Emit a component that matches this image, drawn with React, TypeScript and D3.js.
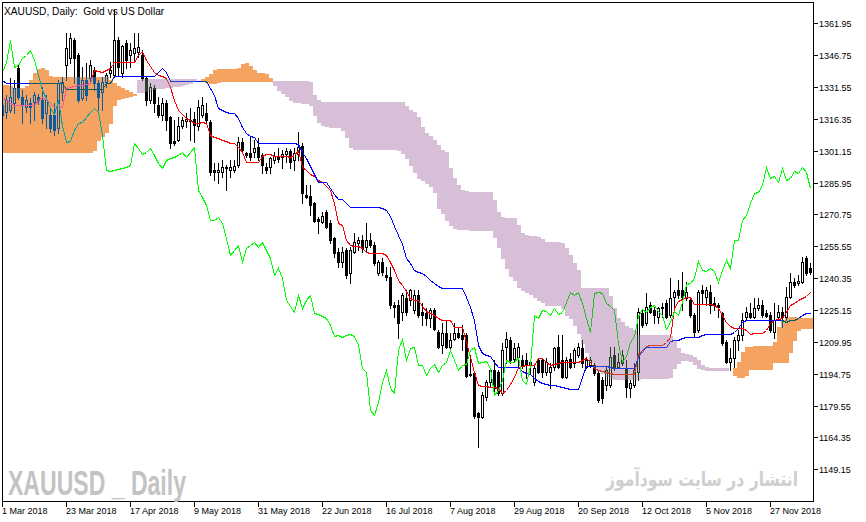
import React from "react";
import * as d3 from "d3";

// ---------- data ----------
// Daily candles, [open, high, low, close]
const ohlc: [number, number, number, number][] = [
  [1323.0,1325.4,1316.8,1318.2],[1319.6,1327.7,1316.8,1325.4],[1320.6,1335.9,1319.6,1326.8],[1323.9,1334.9,1319.2,1331.1],[1340.6,1342.1,1326.0,1326.8],
  [1326.8,1330.1,1314.4,1323.0],[1322.0,1327.7,1319.6,1325.4],[1323.9,1326.3,1314.4,1322.0],[1324.4,1329.2,1315.8,1327.7],[1326.8,1328.2,1323.4,1325.4],
  [1325.4,1331.6,1314.4,1316.8],[1319.2,1327.7,1312.0,1325.4],[1318.2,1322.0,1310.1,1312.0],[1318.2,1323.9,1308.7,1311.1],[1312.0,1334.9,1309.6,1333.5],
  [1329.2,1336.3,1325.4,1334.0],[1342.1,1357.3,1334.9,1350.2],[1345.4,1357.3,1343.0,1354.9],[1354.0,1354.9,1333.5,1345.4],[1346.8,1347.8,1324.4,1325.4],
  [1326.3,1341.1,1325.4,1334.9],[1334.9,1343.0,1325.4,1327.7],[1335.9,1344.4,1333.5,1342.1],[1339.7,1341.1,1330.1,1333.5],[1333.5,1334.9,1320.6,1326.8],
  [1329.2,1336.3,1320.6,1334.0],[1334.0,1338.2,1331.6,1337.3],[1338.2,1343.5,1336.3,1339.7],[1337.3,1368.3,1336.3,1354.0],[1354.0,1355.4,1337.3,1341.1],
  [1338.2,1351.6,1336.3,1351.1],[1352.5,1354.0,1340.6,1344.4],[1346.8,1352.5,1341.1,1349.2],[1347.8,1357.3,1344.4,1350.2],[1348.3,1357.3,1345.9,1350.7],
  [1346.8,1349.2,1334.9,1335.9],[1335.9,1336.3,1323.0,1325.4],[1325.4,1333.5,1323.9,1331.6],[1331.1,1332.5,1319.6,1323.9],[1323.0,1326.8,1317.2,1318.2],
  [1318.2,1326.3,1315.8,1323.9],[1323.9,1325.4,1311.1,1315.8],[1317.2,1317.5,1302.5,1304.9],[1305.8,1315.8,1303.9,1304.9],[1306.3,1317.2,1305.8,1313.0],
  [1313.0,1317.2,1312.0,1315.8],[1315.3,1319.2,1312.5,1316.3],[1315.8,1321.5,1306.3,1315.3],[1316.3,1319.6,1305.3,1313.5],[1313.0,1325.4,1311.1,1322.0],
  [1318.2,1326.8,1317.2,1323.0],[1319.2,1323.9,1314.4,1315.8],[1314.8,1315.8,1289.6,1291.0],[1292.0,1295.3,1287.2,1291.0],[1291.0,1295.3,1285.8,1292.0],
  [1291.0,1296.7,1288.6,1293.4],[1293.4,1294.3,1282.4,1292.9],[1292.0,1296.7,1288.6,1293.4],[1292.0,1296.7,1291.0,1293.9],[1294.3,1307.7,1293.4,1305.3],
  [1305.3,1307.2,1300.1,1301.5],[1300.1,1300.6,1298.2,1299.1],[1300.1,1307.7,1296.7,1298.2],[1300.6,1306.3,1298.2,1302.5],[1303.0,1307.2,1296.7,1298.2],
  [1299.1,1300.1,1290.5,1294.3],[1293.4,1295.3,1290.5,1292.0],[1293.4,1298.2,1290.5,1297.7],[1296.7,1300.6,1295.3,1298.6],[1298.2,1302.5,1295.8,1297.2],
  [1298.2,1301.5,1292.9,1299.6],[1299.6,1302.5,1295.8,1301.0],[1301.0,1302.0,1292.9,1295.8],[1296.7,1302.5,1292.0,1300.1],[1299.6,1310.1,1296.7,1303.0],
  [1303.4,1304.9,1276.2,1281.0],[1280.0,1284.8,1278.6,1279.1],[1279.6,1284.8,1270.5,1275.3],[1276.2,1276.7,1267.2,1267.6],[1268.6,1269.5,1261.9,1267.6],
  [1267.2,1271.9,1266.7,1270.0],[1271.9,1272.9,1264.3,1264.8],[1266.7,1268.1,1257.1,1258.6],[1259.5,1260.0,1250.5,1252.4],[1252.8,1254.7,1245.7,1248.1],
  [1248.1,1255.2,1245.7,1252.8],[1253.8,1254.7,1240.4,1241.9],[1242.8,1255.2,1238.0,1253.8],[1252.8,1261.9,1252.4,1257.6],[1257.1,1260.0,1253.8,1258.6],
  [1258.6,1261.0,1252.8,1254.7],[1255.2,1266.7,1252.8,1258.6],[1258.6,1261.9,1255.2,1256.2],[1256.2,1257.6,1246.6,1247.6],[1242.8,1249.0,1241.9,1248.1],
  [1248.1,1250.0,1241.9,1243.3],[1241.9,1245.7,1239.5,1240.9],[1240.9,1245.7,1226.1,1227.5],[1227.5,1229.0,1221.8,1226.6],[1227.5,1229.9,1211.8,1219.0],
  [1224.2,1233.3,1220.4,1232.3],[1230.9,1234.7,1222.8,1224.2],[1229.9,1235.2,1227.5,1234.7],[1225.2,1234.7,1223.7,1232.3],[1232.3,1234.7,1221.8,1222.8],
  [1224.2,1228.5,1218.0,1222.8],[1223.7,1226.1,1218.0,1221.3],[1221.3,1226.1,1217.0,1225.2],[1225.2,1226.1,1215.6,1216.1],[1214.7,1215.6,1207.0,1207.5],
  [1208.5,1219.0,1204.7,1214.2],[1214.2,1220.4,1207.0,1207.5],[1207.5,1214.2,1207.0,1210.9],[1211.3,1219.0,1210.9,1214.2],[1214.2,1217.1,1211.8,1212.3],
  [1213.2,1218.0,1206.1,1211.3],[1213.2,1214.2,1193.2,1193.7],[1194.2,1203.7,1193.7,1194.6],[1195.1,1195.6,1173.6,1174.6],[1176.0,1176.5,1159.8,1174.1],
  [1174.1,1186.0,1173.6,1184.6],[1183.7,1191.8,1182.2,1190.8],[1190.8,1197.5,1188.4,1196.5],[1196.5,1201.3,1186.0,1187.9],[1195.6,1196.5,1184.6,1185.6],
  [1185.6,1209.4,1184.6,1206.1],[1207.5,1214.7,1199.9,1211.3],[1210.9,1212.3,1199.9,1201.3],[1201.8,1209.4,1200.4,1207.0],[1202.7,1209.4,1197.5,1207.5],
  [1201.3,1203.7,1197.5,1198.9],[1201.3,1204.7,1192.7,1198.9],[1198.9,1201.3,1195.1,1200.4],[1190.8,1198.9,1189.4,1197.5],[1201.3,1202.3,1195.1,1195.6],
  [1201.3,1202.3,1193.2,1195.6],[1195.6,1202.3,1194.2,1200.4],[1195.6,1199.9,1187.9,1198.0],[1198.0,1207.5,1196.5,1207.0],[1207.5,1213.2,1197.5,1198.0],
  [1201.3,1213.2,1192.7,1193.2],[1193.2,1202.7,1192.7,1201.3],[1201.8,1204.7,1197.5,1198.0],[1199.9,1207.0,1198.0,1206.1],[1203.7,1209.4,1202.7,1207.5],
  [1207.0,1210.9,1198.0,1199.9],[1198.0,1202.7,1197.5,1201.3],[1198.9,1202.7,1198.0,1201.3],[1198.9,1199.9,1194.2,1195.1],[1195.1,1196.5,1181.3,1182.2],
  [1191.8,1193.2,1180.8,1183.2],[1189.4,1198.0,1187.0,1196.5],[1189.4,1207.5,1188.4,1202.7],[1203.7,1207.5,1196.5,1197.5],[1198.0,1204.7,1197.5,1200.4],
  [1199.9,1206.1,1198.9,1203.7],[1197.5,1201.3,1183.7,1188.4],[1187.9,1191.8,1183.7,1190.3],[1189.4,1199.9,1188.4,1196.5],[1195.6,1226.1,1191.8,1224.2],
  [1223.7,1225.2,1217.1,1218.0],[1219.0,1233.3,1218.0,1226.6],[1227.5,1229.0,1223.7,1224.2],[1225.2,1226.6,1219.0,1222.8],[1221.8,1226.6,1219.0,1226.1],
  [1226.1,1228.5,1221.8,1226.6],[1228.5,1229.9,1221.3,1221.8],[1222.8,1240.4,1221.8,1230.9],[1231.4,1234.7,1226.6,1233.8],[1234.7,1239.5,1230.9,1232.3],
  [1234.7,1243.3,1225.2,1231.4],[1230.9,1238.5,1229.9,1233.8],[1229.9,1230.9,1221.8,1222.8],[1222.8,1223.7,1212.3,1214.7],[1215.6,1234.7,1214.7,1233.8],
  [1234.7,1237.1,1228.5,1233.3],[1231.4,1236.1,1227.5,1234.7],[1233.8,1237.1,1223.7,1227.5],[1228.5,1231.4,1225.2,1227.5],[1227.5,1228.5,1221.8,1226.6],
  [1223.7,1224.2,1208.5,1209.4],[1209.9,1210.9,1199.9,1200.4],[1200.4,1207.0,1196.5,1202.3],[1202.3,1212.3,1198.0,1210.9],[1210.9,1215.6,1206.1,1213.2],
  [1213.2,1223.7,1210.9,1220.4],[1221.8,1226.6,1220.4,1224.2],[1223.7,1228.5,1221.3,1221.8],[1221.8,1230.9,1221.3,1226.1],[1226.1,1230.9,1225.2,1227.5],
  [1227.5,1229.9,1221.8,1222.8],[1223.7,1225.2,1221.8,1222.3],[1222.8,1224.2,1214.7,1215.6],[1214.7,1228.5,1211.8,1220.4],[1221.8,1227.5,1220.4,1224.2],
  [1224.2,1226.6,1217.1,1221.8],[1221.8,1236.1,1220.4,1231.4],[1231.4,1242.8,1230.9,1238.5],[1238.5,1240.4,1236.1,1237.1],[1238.0,1241.9,1237.1,1239.0],
  [1238.5,1250.5,1238.0,1248.1],[1250.0,1250.9,1241.9,1242.8],[1245.2,1247.6,1242.3,1243.3],
];

// Tenkan-sen (red)
const tenkan: number[] = [
  1326.8,1325.4,1323.9,1323.0,1323.0,1323.0,1323.0,1323.0,1323.0,1325.4,
  1326.8,1325.4,1323.9,1322.0,1322.0,1322.0,1331.1,1331.6,1332.0,1332.5,
  1332.5,1333.0,1333.5,1339.7,1339.2,1338.7,1339.7,1340.6,1343.5,1343.5,
  1343.5,1343.5,1343.5,1343.5,1346.8,1348.7,1344.4,1341.6,1338.7,1337.3,
  1336.8,1335.9,1331.6,1325.4,1320.6,1318.7,1316.8,1315.8,1314.4,1314.4,
  1314.9,1314.4,1308.7,1307.7,1307.2,1306.3,1305.8,1304.9,1304.9,1302.9,
  1300.6,1295.8,1295.8,1295.8,1295.8,1298.6,1299.6,1299.6,1298.6,1298.6,
  1298.6,1298.6,1298.2,1299.1,1301.5,1293.4,1292.0,1290.1,1289.1,1287.2,
  1286.2,1284.3,1282.4,1276.2,1266.7,1265.7,1258.6,1256.2,1255.7,1255.7,
  1254.7,1252.8,1252.4,1252.4,1252.4,1252.4,1251.4,1248.1,1244.3,1239.5,
  1237.1,1234.2,1230.9,1229.9,1229.9,1227.1,1224.7,1223.7,1222.8,1221.4,
  1220.4,1220.4,1220.4,1217.1,1217.1,1217.1,1209.9,1202.7,1195.6,1189.4,
  1188.9,1188.9,1188.4,1188.4,1187.9,1185.6,1187.0,1189.9,1193.2,1198.0,
  1198.5,1198.9,1198.9,1198.9,1202.3,1202.3,1200.4,1198.9,1199.4,1199.9,
  1200.4,1200.4,1200.4,1200.4,1200.4,1201.3,1202.3,1200.4,1197.5,1196.5,
  1196.1,1195.6,1195.1,1194.6,1194.6,1194.6,1194.6,1194.6,1194.6,1204.7,
  1205.1,1208.0,1208.5,1208.5,1208.5,1208.5,1209.9,1212.3,1226.1,1229.5,
  1230.4,1231.4,1231.4,1228.0,1228.0,1228.0,1228.0,1228.0,1227.5,1226.1,
  1222.8,1219.4,1217.5,1216.6,1216.6,1216.6,1215.6,1213.7,1214.2,1214.2,
  1214.2,1215.6,1219.0,1220.4,1220.9,1221.4,1224.2,1227.5,1228.5,1229.9,
  1230.9,1231.8,1233.8,
];

// Kijun-sen (blue)
const kijun: number[] = [
  1334.9,1333.5,1333.5,1333.5,1333.5,1333.5,1333.5,1333.5,1333.5,1333.5,
  1333.5,1333.5,1333.5,1333.5,1333.5,1333.5,1330.6,1330.6,1330.6,1330.6,
  1330.6,1330.6,1330.6,1330.6,1330.6,1330.6,1333.5,1333.5,1336.8,1336.8,
  1336.8,1336.8,1336.8,1336.8,1336.8,1336.8,1336.8,1336.8,1336.8,1338.7,
  1340.6,1338.7,1334.4,1334.4,1334.4,1334.4,1334.4,1334.4,1334.4,1334.4,
  1334.4,1334.4,1331.1,1327.7,1321.5,1320.6,1319.6,1319.2,1319.2,1316.8,
  1312.5,1309.5,1308.2,1307.7,1304.9,1304.9,1304.9,1304.9,1304.9,1304.9,
  1304.9,1304.9,1304.9,1304.9,1304.4,1300.6,1297.7,1293.9,1290.1,1286.2,
  1286.2,1286.2,1283.4,1280.5,1278.1,1278.1,1276.2,1274.3,1274.3,1274.3,
  1274.3,1274.3,1274.3,1274.3,1274.3,1273.8,1272.9,1270.0,1265.2,1260.9,
  1256.7,1250.0,1247.6,1244.3,1243.3,1242.8,1241.4,1239.5,1238.0,1236.6,
  1235.7,1235.7,1235.7,1235.7,1235.7,1235.7,1231.4,1226.6,1220.4,1208.5,
  1204.7,1203.7,1203.2,1200.4,1198.0,1198.0,1198.0,1198.0,1198.0,1198.0,
  1196.1,1195.1,1194.6,1192.7,1191.3,1190.3,1189.9,1189.4,1189.4,1188.9,
  1188.4,1187.9,1187.5,1187.5,1187.5,1193.2,1198.5,1198.5,1198.5,1198.5,
  1198.5,1198.5,1198.0,1197.5,1197.5,1197.5,1197.5,1197.5,1197.5,1202.7,
  1206.1,1207.5,1207.5,1207.5,1207.5,1207.5,1207.5,1210.4,1210.9,1210.9,
  1211.8,1212.3,1212.3,1212.3,1212.3,1213.2,1213.7,1213.7,1213.7,1213.7,
  1213.7,1213.7,1213.7,1214.7,1216.6,1219.4,1220.4,1220.4,1220.4,1220.4,
  1220.4,1220.4,1220.4,1220.4,1220.4,1220.4,1219.4,1220.4,1220.4,1221.4,
  1222.8,1223.7,1223.7,
];

// Chikou span (lime)
const chikou: number[] = [
  1338.7,1343.5,1354.0,1341.1,1342.1,1345.4,1346.8,1349.2,1344.4,1337.3,
  1330.1,1326.3,1321.5,1318.7,1325.4,1313.4,1305.3,1305.8,1311.1,1314.4,
  1314.9,1317.2,1319.6,1321.5,1319.6,1308.7,1292.0,1291.5,1292.0,1292.4,
  1292.9,1293.4,1294.3,1304.9,1302.5,1299.6,1300.6,1302.5,1299.1,1295.3,
  1292.9,1296.7,1297.7,1298.2,1299.1,1300.6,1298.2,1300.6,1302.9,1282.4,
  1279.1,1275.3,1268.1,1268.1,1269.5,1266.7,1259.5,1251.4,1253.8,1256.2,
  1248.1,1254.7,1256.2,1257.6,1255.2,1257.6,1253.8,1250.0,1241.9,1245.2,
  1240.4,1229.9,1227.1,1224.2,1232.3,1226.1,1229.9,1232.3,1223.7,1223.3,
  1222.3,1221.4,1218.0,1212.8,1213.2,1212.3,1213.2,1213.7,1212.8,1208.5,
  1197.5,1195.6,1177.5,1175.1,1181.3,1190.8,1196.5,1187.9,1185.6,1206.1,
  1211.3,1201.3,1207.0,1207.5,1198.9,1198.9,1194.2,1197.5,1199.4,1195.6,
  1198.9,1200.4,1206.1,1201.3,1196.5,1198.9,1199.4,1206.1,1207.5,1199.9,
  1200.4,1200.8,1197.5,1184.6,1187.0,1191.8,1201.3,1200.4,1200.4,1202.7,
  1191.8,1189.9,1198.9,1222.8,1221.4,1225.2,1224.7,1222.8,1226.1,1223.3,
  1224.2,1229.0,1233.8,1232.3,1233.8,1228.5,1221.4,1214.7,1233.3,1233.8,
  1233.3,1228.5,1227.1,1225.2,1209.4,1200.4,1203.2,1209.9,1212.8,1222.3,
  1225.6,1224.2,1226.6,1227.5,1224.7,1222.8,1216.1,1219.4,1224.7,1222.8,
  1229.0,1237.6,1238.0,1240.4,1248.5,1244.3,1243.8,1245.2,1243.8,1238.5,
  1244.3,1249.0,1245.2,1258.6,1258.6,1268.1,1270.5,1276.2,1281.0,1281.5,
  1284.8,1293.4,1288.1,1289.1,1286.2,1292.9,1287.2,1288.1,1291.5,1290.5,
  1293.4,1291.0,1283.4,
];

// Senkou span A (already shifted to the bar it is drawn on)
const spanA: number[] = [
  1332.5,1332.5,1332.0,1331.1,1331.1,1331.1,1332.0,1334.9,1338.2,1340.1,
  1340.6,1339.7,1336.8,1336.3,1336.3,1336.3,1336.3,1336.3,1336.3,1336.3,
  1336.3,1336.3,1336.3,1336.3,1336.3,1336.3,1336.3,1334.9,1333.5,1332.0,
  1331.1,1330.1,1329.2,1328.2,1329.2,1329.2,1329.7,1330.1,1330.6,1331.1,
  1331.1,1331.6,1331.6,1332.0,1332.0,1332.5,1333.0,1333.5,1334.4,1334.9,
  1335.4,1336.3,1337.8,1339.7,1340.1,1340.1,1340.1,1340.1,1340.1,1340.6,
  1342.5,1343.0,1341.6,1339.7,1338.2,1338.2,1337.8,1335.9,1332.5,1330.1,
  1328.7,1327.3,1325.4,1324.4,1324.4,1323.9,1323.9,1323.0,1318.2,1314.9,
  1313.4,1313.0,1312.5,1312.5,1312.5,1311.1,1307.7,1302.9,1302.0,1302.0,
  1302.0,1302.0,1302.0,1302.0,1302.0,1302.0,1302.0,1302.0,1302.0,1301.5,
  1300.1,1297.7,1294.3,1291.0,1288.1,1287.2,1285.8,1284.3,1281.5,1273.8,
  1271.4,1268.1,1265.7,1264.3,1263.8,1263.8,1263.8,1263.3,1263.3,1263.3,
  1263.3,1263.3,1263.3,1260.0,1255.2,1250.0,1245.2,1241.4,1239.5,1236.1,
  1234.7,1233.8,1232.8,1231.4,1229.9,1229.0,1227.5,1227.5,1227.5,1227.5,
  1226.1,1222.8,1221.4,1218.0,1214.2,1209.4,1205.1,1200.4,1198.0,1196.1,
  1195.1,1193.7,1192.7,1192.3,1192.3,1192.3,1192.3,1192.3,1192.3,1192.3,
  1192.7,1192.7,1192.7,1192.7,1192.7,1192.7,1192.7,1193.2,1197.5,1199.9,
  1201.3,1201.3,1200.8,1199.4,1197.5,1197.0,1196.5,1196.5,1196.5,1196.5,
  1196.5,1196.5,1196.1,1197.5,1200.4,1205.1,1207.5,1207.5,1208.0,1208.0,
  1208.0,1208.0,1208.0,1209.9,1217.1,1220.4,1221.4,1221.8,1221.8,1221.4,
  1221.4,1221.4,1221.4,
];

// Senkou span B
const spanB: number[] = [
  1300.6,1300.6,1300.6,1300.6,1300.6,1300.6,1300.6,1300.6,1300.6,1300.6,
  1300.6,1300.6,1300.6,1300.6,1300.6,1300.6,1300.6,1300.6,1300.6,1300.6,
  1300.6,1300.6,1300.6,1301.5,1306.3,1308.2,1310.1,1314.4,1323.0,1325.8,
  1326.3,1326.8,1327.3,1327.7,1334.9,1335.4,1335.4,1335.4,1335.4,1335.4,
  1335.4,1335.4,1335.4,1335.4,1335.4,1335.4,1335.4,1335.4,1335.4,1334.9,
  1334.4,1334.0,1333.5,1333.5,1334.0,1334.4,1334.4,1334.4,1334.4,1334.4,
  1334.4,1334.4,1334.4,1334.4,1334.4,1334.4,1334.4,1334.4,1334.4,1334.4,
  1334.4,1334.4,1334.4,1334.4,1334.4,1334.4,1334.4,1334.0,1327.7,1325.4,
  1324.4,1324.4,1324.4,1324.4,1324.4,1324.4,1324.4,1324.4,1324.4,1324.4,
  1324.4,1324.4,1324.4,1324.4,1324.4,1324.4,1324.4,1324.4,1324.4,1324.4,
  1324.4,1322.5,1320.6,1319.6,1317.2,1312.5,1309.6,1308.2,1306.3,1303.9,
  1301.5,1300.6,1292.9,1288.1,1284.8,1282.4,1281.9,1281.5,1281.5,1281.5,
  1281.5,1281.5,1281.5,1277.7,1271.9,1269.5,1269.1,1269.1,1269.1,1265.7,
  1261.9,1260.9,1260.5,1260.5,1260.0,1259.0,1257.6,1257.6,1257.6,1257.6,
  1257.1,1254.7,1251.4,1247.6,1244.3,1235.7,1235.7,1235.7,1235.7,1235.7,
  1235.7,1235.7,1231.8,1226.1,1221.4,1219.4,1217.5,1216.6,1215.6,1213.2,
  1213.2,1213.2,1213.2,1213.2,1213.2,1213.2,1213.2,1212.8,1210.9,1207.0,
  1204.7,1204.2,1203.7,1202.7,1201.3,1198.9,1198.0,1197.5,1197.5,1197.5,
  1197.5,1197.5,1196.1,1194.2,1193.2,1193.2,1194.2,1197.0,1197.0,1197.0,
  1197.0,1197.0,1197.0,1200.4,1200.4,1200.4,1200.4,1205.1,1210.9,1215.6,
  1216.6,1216.6,1216.6,
];

const priceTicks: number[] = [
  1361.95, 1346.75, 1331.55, 1316.35, 1301.15, 1285.95, 1270.75, 1255.55,
  1240.35, 1225.15, 1209.95, 1194.75, 1179.55, 1164.35, 1149.15,
];
const dateLabels: string[] = [
  "1 Mar 2018", "23 Mar 2018", "17 Apr 2018", "9 May 2018", "31 May 2018",
  "22 Jun 2018", "16 Jul 2018", "7 Aug 2018", "29 Aug 2018", "20 Sep 2018",
  "12 Oct 2018", "5 Nov 2018", "27 Nov 2018",
];
const dateBars: number[] = [0, 16, 32, 48, 64, 80, 96, 112, 128, 144, 160, 176, 192];

const TITLE = "XAUUSD, Daily:  Gold vs US Dollar";
const MARK_EN = "XAUUSD _ Daily";
const MARK_FA = "انتشار در سایت سودآموز";

// ---------- chart ----------
const W = 866;
const H = 522;
const FONT = "'Liberation Sans', Arial, sans-serif";

// The cloud is drawn with a "difference" blend (MT4 paints the kumo with an
// XOR raster op), so the fills are the complements of SandyBrown (#f4a460)
// and Thistle (#d8bfd8): over white they show the true colours.
const UP_KUMO_INV = "#0b5b9f";
const DN_KUMO_INV = "#274027";

export default function App() {
  const n = ohlc.length;
  const x = d3.scaleLinear().domain([0, n - 1]).range([2, 2 + 4 * (n - 1)]);
  const y = d3.scaleLinear().domain([1361.95, 1149.15]).range([23.3, 469.3]);
  const px = (i: number) => Math.round(x(i));
  const py = (v: number) => Math.round(y(v));

  const path = (arr: number[]) =>
    d3
      .line<number>()
      .x((_, i) => px(i) + 0.5)
      .y((v) => py(v) + 0.5)(arr) || "";

  return (
    <svg
      width={W}
      height={H}
      viewBox={`0 0 ${W} ${H}`}
      style={{ position: "absolute", left: 0, top: 0, display: "block", background: "#fff" }}
    >
      <defs>
        <clipPath id="plot">
          <rect x={3} y={3} width={810} height={498} />
        </clipPath>
      </defs>
      <rect x={0} y={0} width={W} height={H} fill="#ffffff" />

      <g clipPath="url(#plot)" shapeRendering="crispEdges">
        {/* white backdrop inside the isolated group so the blend sees it */}
        <rect x={0} y={0} width={W} height={H} fill="#ffffff" />

        {/* candles */}
        {ohlc.map(([o, h, l, c], i) => {
          const cx = px(i);
          const top = py(Math.max(o, c));
          const bot = py(Math.min(o, c));
          const bull = c > o;
          return (
            <g key={i}>
              <line x1={cx + 0.5} x2={cx + 0.5} y1={py(h)} y2={py(l) + 1} stroke="#000" strokeWidth={1} />
              {bot - top < 1 ? (
                <line x1={cx - 1} x2={cx + 2} y1={top + 0.5} y2={top + 0.5} stroke="#000" strokeWidth={1} />
              ) : bull ? (
                <rect x={cx - 0.5} y={top + 0.5} width={2} height={bot - top} fill="#fff" stroke="#000" strokeWidth={1} />
              ) : (
                <rect x={cx - 1} y={top} width={3} height={bot - top + 1} fill="#000" />
              )}
            </g>
          );
        })}

        {/* Ichimoku lines */}
        <path d={path(tenkan)} fill="none" stroke="#ff0000" strokeWidth={1} />
        <path d={path(kijun)} fill="none" stroke="#0000ff" strokeWidth={1} />
        <path d={path(chikou)} fill="none" stroke="#00ff00" strokeWidth={1} />

        {/* Kumo */}
        <g style={{ mixBlendMode: "difference" }}>
          {spanA.map((a, i) => {
            const b = spanB[i];
            const t = py(Math.max(a, b));
            const bt = py(Math.min(a, b));
            if (bt - t < 1) return null;
            return (
              <rect
                key={i}
                x={px(i) - 1}
                y={t}
                width={4}
                height={bt - t + 1}
                fill={a >= b ? UP_KUMO_INV : DN_KUMO_INV}
              />
            );
          })}
        </g>
      </g>

      {/* frame */}
      <rect x={2.5} y={2.5} width={811} height={499} fill="none" stroke="#000" strokeWidth={1} shapeRendering="crispEdges" />

      {/* price axis */}
      <g shapeRendering="crispEdges">
        {priceTicks.map((p) => (
          <line key={p} x1={814} x2={818} y1={py(p) + 0.5} y2={py(p) + 0.5} stroke="#000" />
        ))}
      </g>
      {priceTicks.map((p) => (
        <text key={p} x={819} y={py(p) + 4} fontFamily={FONT} fontSize={9} fill="#000">
          {p.toFixed(2)}
        </text>
      ))}

      {/* time axis */}
      <g shapeRendering="crispEdges">
        {dateBars.map((b) => (
          <line key={b} x1={px(b) + 0.5} x2={px(b) + 0.5} y1={502} y2={507} stroke="#000" />
        ))}
      </g>
      {dateBars.map((b, k) => (
        <text key={b} x={px(b)} y={514} fontFamily={FONT} fontSize={9} fill="#000">
          {dateLabels[k]}
        </text>
      ))}

      {/* title */}
      <text x={4} y={15} fontFamily={FONT} fontSize={10.2} fill="#000">
        {TITLE.replace(/ /g, "\u00a0")}
      </text>

      {/* watermarks */}
      <text
        x={8}
        y={495}
        fontFamily="'Liberation Sans Narrow', 'Liberation Sans', Arial, sans-serif"
        fontWeight={700}
        fontSize={35}
        fill="#c3c3c3"
        textLength={178}
        lengthAdjust="spacingAndGlyphs"
      >
        {MARK_EN}
      </text>
      <g transform="translate(798,486) scale(0.78,1)">
        <text
          x={0}
          y={0}
          fontFamily="'DejaVu Sans', sans-serif"
          fontWeight={700}
          fontSize={20}
          fill="#cfcfcf"
          textAnchor="end"
        >
          {MARK_FA}
        </text>
      </g>
    </svg>
  );
}
